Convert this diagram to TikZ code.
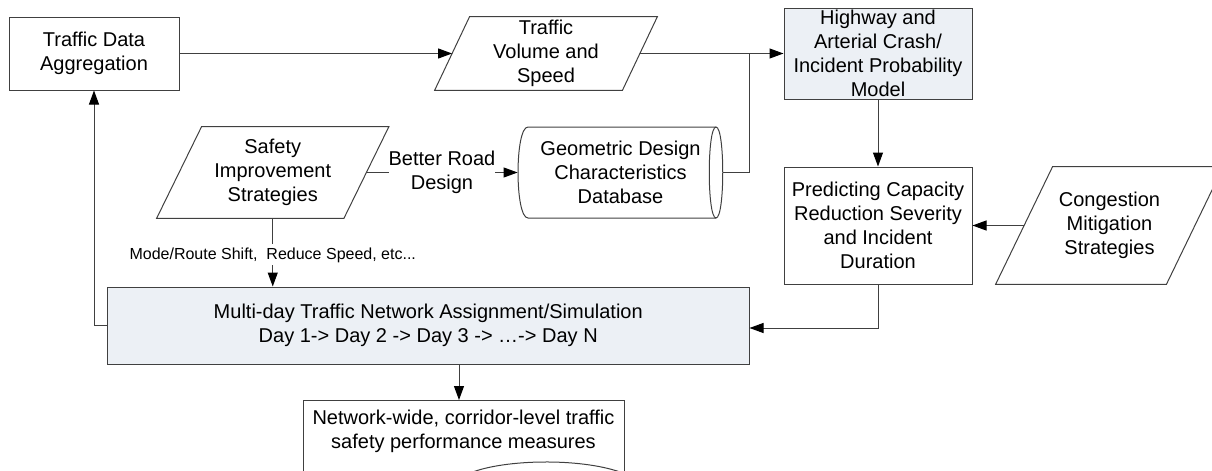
\documentclass[tikz,border=0pt]{standalone}
\usepackage{fontspec}
\setmainfont{Liberation Sans}
\usetikzlibrary{arrows.meta}
\definecolor{boxfill}{RGB}{236,240,245}
\definecolor{linegray}{RGB}{64,64,64}
\newcommand\drawpara[2]{\draw[conn] ([xshift=#2]#1.north west) -- ([xshift=#2]#1.north east) -- ([xshift=-#2]#1.south east) -- ([xshift=-#2]#1.south west) -- cycle;}
\begin{document}
\begin{tikzpicture}[x=0.5pt,y=-0.5pt,
  font=\fontsize{10}{12}\selectfont,
  every node/.style={align=center, inner sep=0pt},
  box/.style={draw=linegray, line width=0.5pt, rectangle},
  shaded/.style={box, fill=boxfill},
  conn/.style={draw=linegray, line width=0.5pt},
  arr/.style={conn, -{Triangle[length=7pt,width=5pt,color=black]}},
  lbl/.style={fill=white, inner xsep=0pt, inner ysep=1.5pt},
]
\useasboundingbox (0,0) rectangle (1212,471);

% nodes
\node[box, minimum width=85pt, minimum height=36.5pt] (tda) at (94,53.5) {Traffic Data\\Aggregation};
\node[minimum width=93.5pt, minimum height=36.5pt] (tv) at (546,53.5) {Traffic\\Volume and\\Speed};
\drawpara{tv}{8.75pt}
\node[shaded, minimum width=94pt, minimum height=45.5pt] (hw) at (878,53.5) {Highway and\\Arterial Crash/\\Incident Probability\\Model};
\node[minimum width=93.25pt, minimum height=45.5pt] (sis) at (272.75,172.5) {Safety\\Improvement\\Strategies};
\drawpara{sis}{11.25pt}
\node[minimum width=102.5pt, minimum height=45.5pt] (geo) at (620.5,172.5) {Geometric Design\\Characteristics\\Database};
\draw[conn] (716,127) -- (528,127) .. controls (514.7,127) and (514.7,218) .. (528,218) -- (716,218);
\draw[conn] (716,127) .. controls (725,127) and (725,218) .. (716,218);
\draw[conn] (716,127) .. controls (707,127) and (707,218) .. (716,218);
\node[box, minimum width=94pt, minimum height=58.5pt] (pcr) at (878,225.5) {Predicting Capacity\\Reduction Severity\\and Incident\\Duration};
\node[minimum width=85pt, minimum height=58.5pt] (cms) at (1109.5,225.5) {Congestion\\Mitigation\\Strategies};
\drawpara{cms}{14.25pt}
\node[shaded, minimum width=320.75pt, minimum height=38.5pt] (md) at (428.25,325.5) {Multi-day Traffic Network Assignment/Simulation\\Day 1-> Day 2 -> Day 3 -> …-> Day N};
\node[box, minimum width=160.5pt, minimum height=45pt, anchor=north] (nw) at (463.5,400) {};
\node (nwt) at (463.5,431) {Network-wide, corridor-level traffic\\safety performance measures};
\draw[conn] (470,473) .. controls (505,459) and (580,458) .. (620,472);

% connectors
\coordinate (jn) at (749,53.5);
\draw[arr] (tda.east) -- (tv.west);
\draw[arr] (tv.east) -- (hw.west);
\draw[conn] (geo.east) -| (jn);
\draw[arr] (sis.east) -- node[lbl] {Better Road\\Design} (geo.west);
\draw[arr] (sis.south) -- node[lbl, pos=0.536, font=\fontsize{8}{9.6}\selectfont] {Mode/Route Shift,\ \ Reduce Speed, etc...} (sis.south |- md.north);
\draw[arr] (md.west) -| (tda.south);
\draw[arr] (hw.south) -- (pcr.north);
\draw[arr] (cms.west) -- (pcr.east);
\draw[arr] (pcr.south) |- ([yshift=-1.25pt]md.east);
\draw[arr] ([xshift=15.375pt]md.south) -- ([xshift=15.375pt]md.south |- nw.north);
\end{tikzpicture}
\end{document}
